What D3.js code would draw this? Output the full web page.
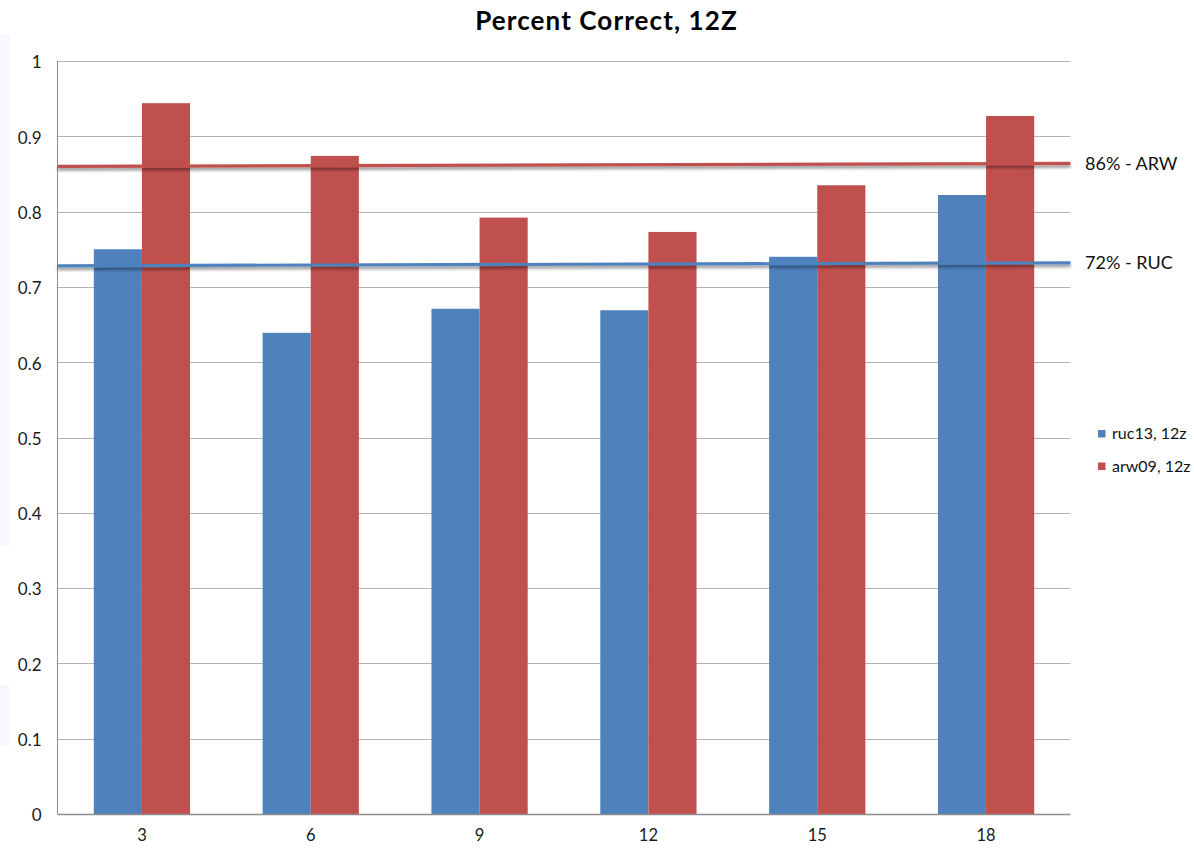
<!DOCTYPE html>
<html>
<head>
<meta charset="utf-8">
<script src="https://cdn.jsdelivr.net/npm/d3@7"></script>
<style>
  html, body { margin: 0; padding: 0; background: #fff; }
  svg { display: block; font-family: Lato, "Open Sans", sans-serif; }
</style>
</head>
<body>
<svg id="chart" width="1194" height="848"></svg>
<script>
// Forecast hour categories
const categories = ["3", "6", "9", "12", "15", "18"];
// Fraction correct per model
const ruc13 = [0.750, 0.639, 0.671, 0.669, 0.740, 0.822];
const arw09 = [0.944, 0.874, 0.792, 0.773, 0.835, 0.927];
const seriesNames = ["ruc13, 12z", "arw09, 12z"];
const seriesColors = ["#4f81bd", "#c0504d"];
// Linear trend (start, end) across the plot
const trendArw = [0.860, 0.864];
const trendRuc = [0.728, 0.732];
const trendLabels = ["86% - ARW", "72% - RUC"];
const yTicks = [0, 0.1, 0.2, 0.3, 0.4, 0.5, 0.6, 0.7, 0.8, 0.9, 1];
const yTickLabels = ["0", "0.1", "0.2", "0.3", "0.4", "0.5", "0.6", "0.7", "0.8", "0.9", "1"];

const svg = d3.select("#chart");
const m = { left: 57.5, right: 1070.5, top: 61, bottom: 814 };

// faint tint along the left edge
svg.append("rect").attr("x", 0).attr("y", 35).attr("width", 10).attr("height", 510)
  .attr("fill", "#f8f6fe");
svg.append("rect").attr("x", 0).attr("y", 685).attr("width", 10).attr("height", 60)
  .attr("fill", "#f8f6fe");

const x = d3.scaleBand().domain(categories).range([m.left, m.right]).paddingInner(0).paddingOuter(0);
const y = d3.scaleLinear().domain([0, 1]).range([m.bottom, m.top]);
const xt = d3.scaleLinear().domain([0, 1]).range([m.left, m.right]);

const barW = x.bandwidth() * 0.285;
const groupOffset = (x.bandwidth() - 2 * barW) / 2;

// grid lines
svg.append("g").selectAll("line").data(yTicks.slice(1)).join("line")
  .attr("x1", m.left).attr("x2", m.right)
  .attr("y1", d => Math.round(y(d)) + 0.5).attr("y2", d => Math.round(y(d)) + 0.5)
  .attr("stroke", "#b3b3b3").attr("stroke-width", 1);

// y axis labels
const yAxis = d3.axisLeft(y).tickValues(yTicks).tickFormat((d, i) => yTickLabels[i]).tickSize(0).tickPadding(16);
const yg = svg.append("g").attr("transform", `translate(${m.left},0)`).call(yAxis);
yg.select(".domain").remove();
yg.selectAll("text").attr("font-size", 17).attr("fill", "#1a1a1a")
  .attr("font-family", "Lato, sans-serif").attr("dy", "0.4em");

// bars
const series = [ruc13, arw09];
series.forEach((vals, s) => {
  svg.append("g").selectAll("rect").data(vals).join("rect")
    .attr("x", (d, i) => x(categories[i]) + groupOffset + s * barW)
    .attr("y", d => y(d))
    .attr("width", barW)
    .attr("height", d => y(0) - y(d))
    .attr("fill", seriesColors[s]);
});

// axis lines
svg.append("line").attr("x1", m.left).attr("x2", m.left).attr("y1", m.top).attr("y2", m.bottom)
  .attr("stroke", "#8c8c8c").attr("stroke-width", 1);
svg.append("line").attr("x1", m.left).attr("x2", m.right).attr("y1", m.bottom + 0.5).attr("y2", m.bottom + 0.5)
  .attr("stroke", "#8c8c8c").attr("stroke-width", 1.5);

// x axis labels
const xAxis = d3.axisBottom(x).tickSize(0).tickPadding(15);
const xg = svg.append("g").attr("transform", `translate(0,${m.bottom})`).call(xAxis);
xg.select(".domain").remove();
xg.selectAll("text").attr("font-size", 16.5).attr("fill", "#1a1a1a")
  .attr("font-family", "Lato, sans-serif");

// trend lines with soft shadow
const defs = svg.append("defs");
const f = defs.append("filter").attr("id", "shadow").attr("x", "-5%").attr("y", "-200%")
  .attr("width", "110%").attr("height", "500%");
f.append("feDropShadow").attr("dx", 0).attr("dy", 2.5).attr("stdDeviation", 1.4)
  .attr("flood-color", "#000").attr("flood-opacity", 0.45);

const trends = [trendArw, trendRuc];
const trendColors = [seriesColors[1], seriesColors[0]];
const line = d3.line().x((d, i) => xt(i)).y(d => y(d));
trends.forEach((t, k) => {
  svg.append("path").datum(t).attr("d", line)
    .attr("fill", "none").attr("stroke", trendColors[k]).attr("stroke-width", 3.2)
    .attr("filter", "url(#shadow)");
  svg.append("text").attr("x", 1085).attr("y", y(t[1]) + 6.5)
    .attr("font-size", 18).attr("fill", "#111").text(trendLabels[k]);
});

// legend
seriesNames.forEach((n, i) => {
  const ly = 437 + i * 32.5;
  svg.append("rect").attr("x", 1098).attr("y", ly - 7).attr("width", 7.5).attr("height", 7.5)
    .attr("fill", seriesColors[i]);
  svg.append("text").attr("x", 1112).attr("y", ly + 2).attr("font-size", 16)
    .attr("fill", "#111").text(n);
});

// title
svg.append("text").attr("x", 606.5).attr("y", 30).attr("text-anchor", "middle")
  .attr("font-size", 26).attr("font-weight", "bold").attr("letter-spacing", 1.1).attr("fill", "#000")
  .text("Percent Correct, 12Z");
</script>
</body>
</html>
